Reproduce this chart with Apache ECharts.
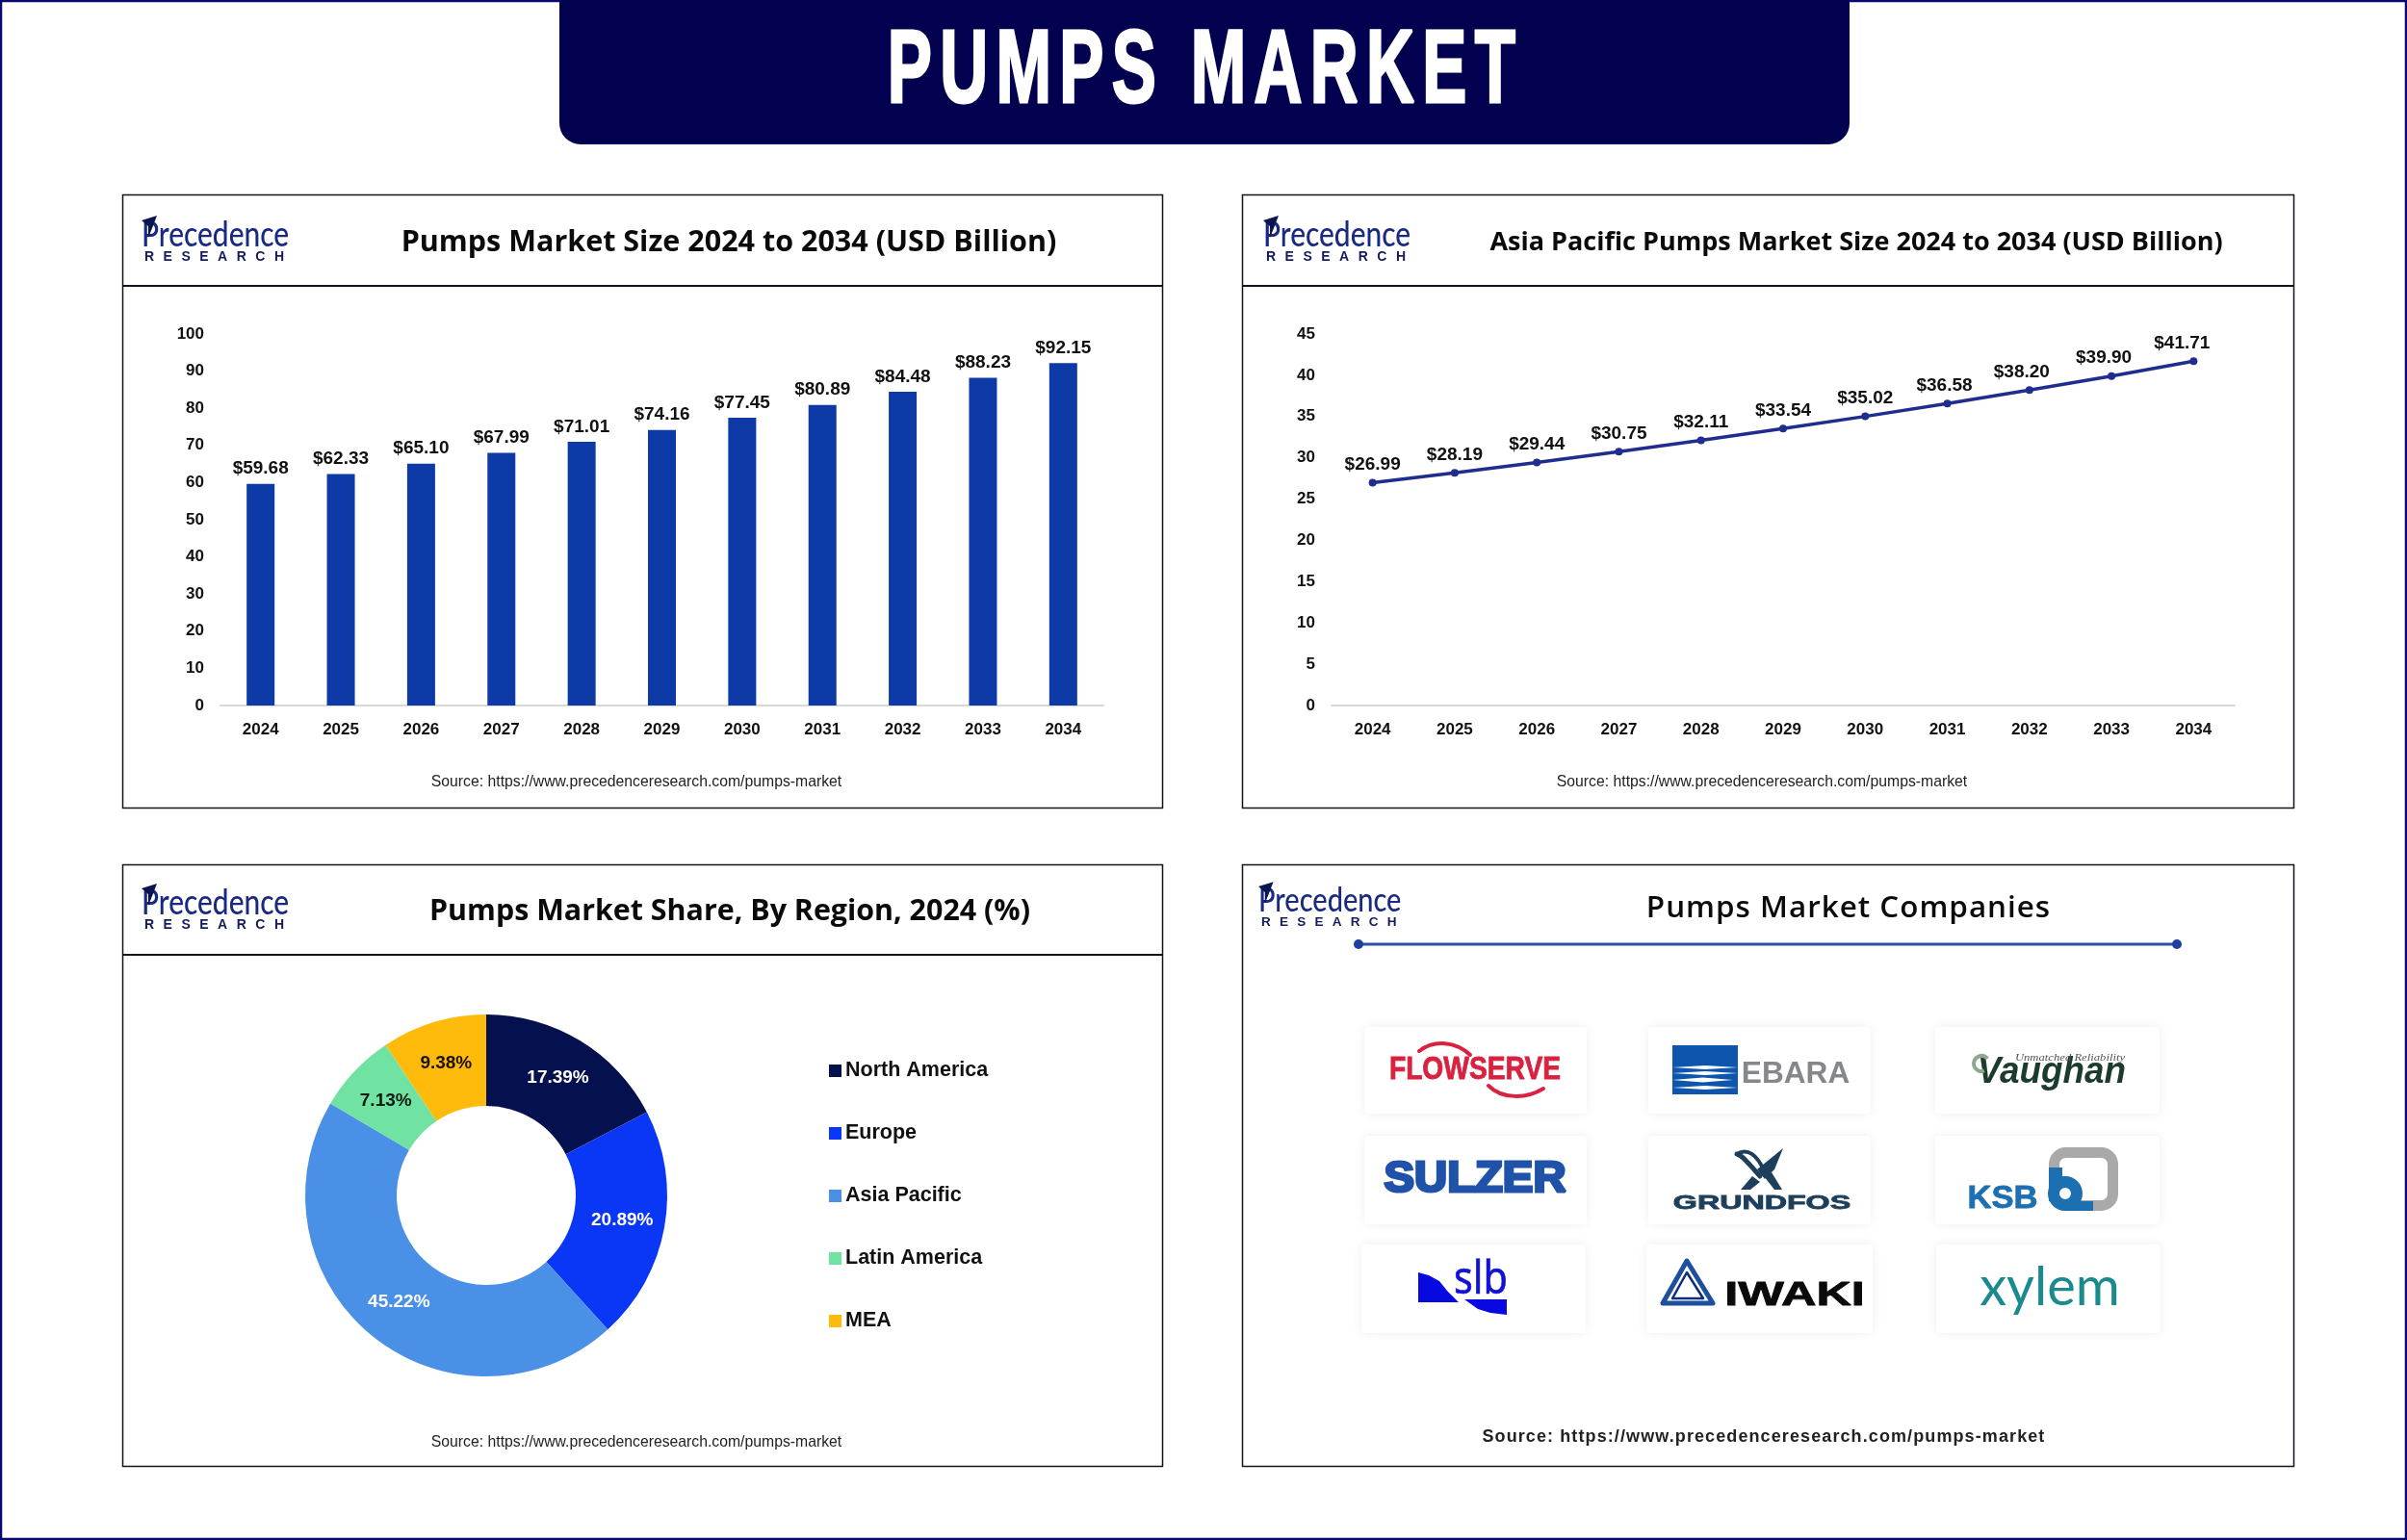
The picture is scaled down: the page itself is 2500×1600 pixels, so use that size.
<!DOCTYPE html>
<html>
<head>
<meta charset="utf-8">
<title>Pumps Market</title>
<style>
html, body { margin: 0; padding: 0; background: #fff; }
#main { width: 2500px; height: 1600px; }
</style>
<script src="https://cdn.jsdelivr.net/npm/echarts@6/dist/echarts.min.js"></script>
</head>
<body>
<div id="main"></div>
<script>
// data
var years = ['2024', '2025', '2026', '2027', '2028', '2029', '2030', '2031', '2032', '2033', '2034'];
var marketSize = [59.68, 62.33, 65.10, 67.99, 71.01, 74.16, 77.45, 80.89, 84.48, 88.23, 92.15];
var asiaPacificSize = [26.99, 28.19, 29.44, 30.75, 32.11, 33.54, 35.02, 36.58, 38.20, 39.90, 41.71];
var regions = ['North America', 'Europe', 'Asia Pacific', 'Latin America', 'MEA'];
var regionShare = [17.39, 20.89, 45.22, 7.13, 9.38];

var regionColors = ['#05104f', '#0a36f5', '#4a90e6', '#70e3a2', '#ffbb0b'];
var regionLabelColors = ['#fff', '#fff', '#fff', '#0b1a12', '#1a1204'];
var lineLabelShift = [0, 0, 0, 0, 0, 0, 0, -3, -8, -8, -12];

// zrender has no letter spacing, the canvas context has
var letterSpacing = {
  'PUMPS MARKET': '13px',
  'RESEARCH': '9.5px',
  'Pumps Market Companies': '1px',
  'Source: https://www.precedenceresearch.com/pumps-market ': '1.1px'
};
['fillText', 'strokeText'].forEach(function (fn) {
  var draw = CanvasRenderingContext2D.prototype[fn];
  CanvasRenderingContext2D.prototype[fn] = function (t, x, y, m) {
    this.letterSpacing = letterSpacing[t] || '0px';
    if (m === undefined) draw.call(this, t, x, y);
    else draw.call(this, t, x, y, m);
  };
});

var FONT = '"Liberation Sans"';
var LOGO_BLUE = '#1a2a80';
var money = function (p) { return '$' + p.value.toFixed(2); };

function text(str, x, y, font, fill, extra) {
  var el = {
    type: 'text', x: x, y: y, silent: true,
    style: { text: str, font: font, fill: fill, textAlign: 'center', textVerticalAlign: 'middle' }
  };
  if (extra) {
    if (extra.scaleX) el.scaleX = extra.scaleX;
    if (extra.align) el.style.textAlign = extra.align;
    if (extra.stroke) { el.style.stroke = extra.stroke; el.style.lineWidth = extra.lineWidth || 1; }
  }
  return el;
}
function rect(x, y, w, h, style, r) {
  return { type: 'rect', silent: true, shape: { x: x, y: y, width: w, height: h, r: r || 0 }, style: style };
}
function poly(points, fill) {
  return { type: 'polygon', silent: true, shape: { points: points }, style: { fill: fill } };
}
function curve(x1, y1, cx1, cy1, cx2, cy2, x2, y2, color, width) {
  return {
    type: 'bezierCurve', silent: true,
    shape: { x1: x1, y1: y1, cpx1: cx1, cpy1: cy1, cpx2: cx2, cpy2: cy2, x2: x2, y2: y2 },
    style: { stroke: color, lineWidth: width, fill: null, lineCap: 'round' }
  };
}
function hline(x1, x2, y, color, width) {
  return { type: 'line', silent: true, shape: { x1: x1, y1: y, x2: x2, y2: y }, style: { stroke: color, lineWidth: width } };
}
function dot(x, y, r, fill) {
  return { type: 'circle', silent: true, shape: { cx: x, cy: y, r: r }, style: { fill: fill } };
}

function logo(x, y, s) {
  var word = text('Precedence', 0, 11, '500 36px Lato', LOGO_BLUE, { scaleX: 0.83, align: 'left' });
  var sub = text('RESEARCH', 3, 34, 'bold 14px ' + FONT, '#141c5c', { align: 'left' });
  return {
    type: 'group', x: x, y: y, scaleX: s, scaleY: s, silent: true,
    children: [word, sub, poly([[0, -4], [16, -9], [11, 4], [7, 14], [7, 2]], '#0a1550')]
  };
}

function card(x, y, w, h) {
  return rect(x, y, w, h, { fill: '#fff', shadowBlur: 12, shadowColor: 'rgba(20,30,60,0.07)' }, 4);
}

var graphics = [];
var panelStyle = { fill: '#fff', stroke: '#14141f', lineWidth: 1.5 };

// page frame and banner
graphics.push(rect(1, 1, 2498, 1598, { fill: '#fff', stroke: '#0b0670', lineWidth: 2.5 }));
graphics.push(rect(581, 0, 1340, 150, { fill: '#01014f' }, [0, 0, 22, 22]));
graphics.push(text('PUMPS MARKET', 1252, 76, 'bold 108px ' + FONT, '#fff', { scaleX: 0.64, stroke: '#fff', lineWidth: 3 }));

// panels
graphics.push(rect(127.5, 202.5, 1080, 637, panelStyle));
graphics.push(rect(1290.5, 202.5, 1092, 637, panelStyle));
graphics.push(rect(127.5, 898.5, 1080, 625, panelStyle));
graphics.push(rect(1290.5, 898.5, 1092, 625, panelStyle));
graphics.push(hline(127, 1207, 297, '#14141f', 2));
graphics.push(hline(1290, 2382, 297, '#14141f', 2));
graphics.push(hline(127, 1207, 992, '#14141f', 2));

graphics.push(logo(147, 233, 1));
graphics.push(logo(1312, 233, 1));
graphics.push(logo(147, 927, 1));
graphics.push(logo(1307, 925, 0.97));

// company panel rule
graphics.push(hline(1411, 2261, 981, '#2b50a8', 3));
graphics.push(dot(1411, 981, 5, '#1f3fa0'));
graphics.push(dot(2261, 981, 5, '#1f3fa0'));

// company cards
[[1417, 1067, 231, 90], [1712, 1067, 231, 90], [2010, 1067, 233, 90],
 [1417, 1180, 231, 92], [1712, 1180, 231, 92], [2010, 1180, 233, 92],
 [1414, 1293, 233, 92], [1710, 1293, 235, 92], [2011, 1293, 233, 92]].forEach(function (c) {
  graphics.push(card(c[0], c[1], c[2], c[3]));
});

// flowserve
graphics.push(text('FLOWSERVE', 1532, 1112, 'bold 34px ' + FONT, '#d9223f', { scaleX: 0.83, stroke: '#d9223f', lineWidth: 0.8 }));
graphics.push(curve(1474, 1092, 1490, 1080, 1512, 1082, 1527, 1096, '#d9223f', 4));
graphics.push(curve(1546, 1128, 1560, 1142, 1585, 1142, 1603, 1131, '#d9223f', 4));

// ebara
graphics.push(rect(1737, 1086, 68, 51, { fill: '#0d55ad' }));
[[1737, 1805, 1109, 2], [1737, 1805, 1115, 2], [1737, 1800, 1122, 2.5], [1737, 1805, 1130, 2]].forEach(function (s) {
  var mid = (s[0] + s[1]) / 2;
  graphics.push(poly([[s[0], s[2]], [mid, s[2] - s[3]], [s[1], s[2]], [mid, s[2] + s[3]]], '#fff'));
});
graphics.push(text('EBARA', 1865, 1116, 'bold 31px ' + FONT, '#85878a', { scaleX: 1.02 }));

// vaughan
graphics.push(text('Vaughan', 2131, 1115, 'italic bold 38px ' + FONT, '#1b3b2c', { scaleX: 0.97 }));
graphics.push(text('Unmatched Reliability', 2150, 1099, 'italic 11px "Liberation Serif"', '#555', { scaleX: 1.15 }));
graphics.push({
  type: 'arc', silent: true,
  shape: { cx: 2058, cy: 1105, r: 8, startAngle: 1.2, endAngle: 5.6 },
  style: { stroke: '#8ea88f', lineWidth: 4, fill: null }
});

// sulzer
graphics.push(text('SULZER', 1532, 1226, 'bold 45px ' + FONT, '#1f52a8', { scaleX: 1.05, stroke: '#1f52a8', lineWidth: 3 }));

// grundfos
graphics.push(text('GRUNDFOS', 1830, 1250, 'bold 20px ' + FONT, '#1d3f5c', { scaleX: 1.61, stroke: '#1d3f5c', lineWidth: 0.8 }));
graphics.push(poly([[1852, 1193], [1843, 1215], [1833, 1225], [1825, 1215]], '#1d3f5c'));
graphics.push(poly([[1820, 1222], [1828, 1228], [1818, 1236], [1808, 1236]], '#1d3f5c'));
graphics.push(poly([[1832, 1222], [1840, 1218], [1851, 1236], [1843, 1236]], '#1d3f5c'));
graphics.push(curve(1828, 1222, 1815, 1208, 1810, 1200, 1804, 1199, '#1d3f5c', 5));
graphics.push(curve(1804, 1199, 1815, 1192, 1825, 1200, 1832, 1216, '#1d3f5c', 4));

// ksb
graphics.push(text('KSB', 2080, 1246, 'bold 34px ' + FONT, '#1c6fb0', { scaleX: 1.02, stroke: '#1c6fb0', lineWidth: 0.8 }));
graphics.push(rect(2133.5, 1197.5, 61, 55, { fill: 'none', stroke: '#a9a9a9', lineWidth: 11 }, 12));
graphics.push(rect(2128, 1213, 14, 35, { fill: '#1c6fb0' }));
graphics.push({
  type: 'circle', silent: true, shape: { cx: 2145, cy: 1240, r: 12 },
  style: { fill: '#fff', stroke: '#1c6fb0', lineWidth: 12 }
});
graphics.push(rect(2145, 1248, 29, 10, { fill: '#1c6fb0' }));

// slb
graphics.push(text('slb', 1538, 1331, '400 47px "Noto Sans"', '#1010d8', { scaleX: 0.88, stroke: '#1010d8', lineWidth: 0.6 }));
graphics.push(poly([[1473, 1322], [1484, 1325], [1495, 1331], [1503, 1341], [1515, 1353], [1473, 1353]], '#0808e0'));
graphics.push(poly([[1521, 1350], [1565, 1350], [1565, 1366], [1548, 1364], [1535, 1360]], '#0808e0'));

// iwaki
graphics.push(text('IWAKI', 1864, 1346, 'bold 35px ' + FONT, '#0a0a0a', { scaleX: 1.44, stroke: '#0a0a0a', lineWidth: 0.8 }));
graphics.push({
  type: 'polygon', silent: true, shape: { points: [[1752, 1310], [1779, 1354], [1727, 1354]] },
  style: { fill: '#fff', stroke: '#1e4f9f', lineWidth: 5, lineJoin: 'round' }
});
graphics.push({
  type: 'polygon', silent: true, shape: { points: [[1752, 1322], [1769, 1349], [1737, 1349]] },
  style: { fill: '#fff', stroke: '#0b2f7a', lineWidth: 2.5, lineJoin: 'round' }
});

// xylem
graphics.push(text('xylem', 2129, 1338, '400 56px Lato', '#1a8a8e'));

function sectionTitle(str, x, y, size, weight) {
  return {
    text: str, left: x, top: y, padding: 0, textAlign: 'center', textVerticalAlign: 'middle',
    textStyle: { fontFamily: '"Open Sans"', fontSize: size, fontWeight: weight || 'bold', color: '#0b0b0b' }
  };
}
function sourceTitle(x, y, size, weight, key) {
  return {
    text: key || 'Source: https://www.precedenceresearch.com/pumps-market', left: x, top: y, padding: 0,
    textAlign: 'center', textVerticalAlign: 'middle',
    textStyle: { fontFamily: FONT, fontSize: size, fontWeight: weight, color: '#222' }
  };
}

var option = {
  animation: false,
  backgroundColor: '#fff',
  textStyle: { fontFamily: FONT },
  title: [
    sectionTitle('Pumps Market Size 2024 to 2034 (USD Billion)', 757, 252, 30.5),
    sectionTitle('Asia Pacific Pumps Market Size 2024 to 2034 (USD Billion)', 1928, 252, 27),
    sectionTitle('Pumps Market Share, By Region, 2024 (%)', 758, 947, 30.4),
    sectionTitle('Pumps Market Companies', 1920, 944, 31.4, 600),
    sourceTitle(661, 812.5, 15.75, 'normal'),
    sourceTitle(1830, 812.5, 15.75, 'normal'),
    sourceTitle(661, 1498.5, 15.75, 'normal'),
    sourceTitle(1835, 1493.5, 18, 'bold', 'Source: https://www.precedenceresearch.com/pumps-market ')
  ],
  grid: [
    { left: 229, top: 347, width: 917, height: 386 },
    { left: 1383, top: 347, width: 938, height: 386 }
  ],
  xAxis: [0, 1].map(function (i) {
    return {
      type: 'category', gridIndex: i, data: years,
      axisTick: { show: false },
      axisLine: { lineStyle: { color: '#d9d9d9', width: 2 } },
      axisLabel: { color: '#111', fontSize: 17, fontWeight: 'bold', margin: 17 }
    };
  }),
  yAxis: [
    { max: 100, interval: 10 },
    { max: 45, interval: 5 }
  ].map(function (a, i) {
    return {
      type: 'value', gridIndex: i, min: 0, max: a.max, interval: a.interval,
      axisLine: { show: false }, axisTick: { show: false }, splitLine: { show: false },
      axisLabel: { color: '#111', fontSize: 17, fontWeight: 'bold', margin: 17 }
    };
  }),
  legend: {
    orient: 'vertical', left: 856, top: 1095, itemWidth: 13, itemHeight: 13, itemGap: 40,
    icon: 'rect', selectedMode: false, data: regions,
    textStyle: { color: '#111', fontSize: 21.5, fontWeight: 'bold', lineHeight: 25, padding: [0, 0, 0, -1] }
  },
  series: [
    {
      type: 'bar', name: 'Pumps Market Size', xAxisIndex: 0, yAxisIndex: 0,
      data: marketSize, barWidth: 29,
      itemStyle: { color: '#0d3aa6' },
      label: { show: true, position: 'top', distance: 6, color: '#111', fontSize: 19, fontWeight: 'bold', formatter: money }
    },
    {
      type: 'line', name: 'Asia Pacific Pumps Market Size', xAxisIndex: 1, yAxisIndex: 1,
      data: asiaPacificSize.map(function (v, i) {
        return { value: v, label: { offset: [lineLabelShift[i], 0] } };
      }),
      symbol: 'circle', symbolSize: 8,
      lineStyle: { color: '#1f2d8f', width: 3.5 },
      itemStyle: { color: '#1f2d8f' },
      label: { show: true, position: 'top', distance: 5, color: '#111', fontSize: 19, fontWeight: 'bold', formatter: money }
    },
    {
      type: 'pie', name: 'Pumps Market Share', center: [505, 1242], radius: [93, 188], startAngle: 90, clockwise: true,
      data: regions.map(function (r, i) {
        return {
          name: r, value: regionShare[i],
          itemStyle: { color: regionColors[i] },
          label: { color: regionLabelColors[i] }
        };
      }),
      label: {
        show: true, position: 'inside', fontSize: 19, fontWeight: 'bold',
        formatter: function (p) { return p.value.toFixed(2) + '%'; }
      },
      labelLine: { show: false }
    }
  ],
  graphic: { elements: graphics }
};

var myChart = echarts.init(document.getElementById('main'));
myChart.setOption(option);
</script>
</body>
</html>
